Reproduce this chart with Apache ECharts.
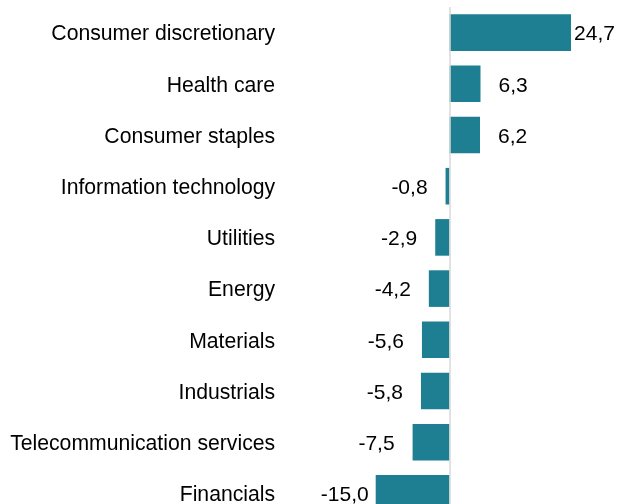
<!DOCTYPE html>
<html>
<head>
<meta charset="utf-8">
<script src="https://cdn.jsdelivr.net/npm/echarts@6/dist/echarts.min.js"></script>
<style>
  html, body { margin: 0; padding: 0; background: #fff; overflow: hidden; }
  #chart { width: 618px; height: 524px; }
</style>
</head>
<body>
<div id="chart"></div>
<script>
var categories = [
  "Consumer discretionary",
  "Health care",
  "Consumer staples",
  "Information technology",
  "Utilities",
  "Energy",
  "Materials",
  "Industrials",
  "Telecommunication services",
  "Financials"
];
var values = [24.7, 6.3, 6.2, -0.8, -2.9, -4.2, -5.6, -5.8, -7.5, -15.0];

var font = "Liberation Sans, Arial, sans-serif";

function fmt(v) {
  return v.toFixed(1).replace(".", ",");
}

var seriesData = values.map(function (v, i) {
  // labels squeezed near the chart edges
  var dist = 18;
  if (i === 0) dist = 3;
  if (i === values.length - 1) dist = 7;
  return {
    value: v,
    label: { position: v >= 0 ? "right" : "left", distance: dist }
  };
});

var chart = echarts.init(document.getElementById("chart"));
chart.setOption({
  animation: false,
  backgroundColor: "#ffffff",
  grid: { left: 351.1, width: 246, top: 7, height: 512 },
  xAxis: {
    type: "value",
    min: -20,
    max: 30,
    show: false
  },
  yAxis: {
    type: "category",
    data: categories,
    inverse: true,
    axisTick: { show: false },
    axisLine: { show: false },
    axisLabel: {
      margin: 76,
      formatter: function (v) { return "{c|" + v + "}"; },
      rich: {
        c: {
          color: "#000",
          fontSize: 21.2,
          fontFamily: font,
          padding: [4, 0, 0, 0]
        }
      }
    }
  },
  series: [
    {
      type: "bar",
      data: seriesData,
      barCategoryGap: "28.5%",
      itemStyle: { color: "#1d7f91" },
      label: {
        show: true,
        color: "#000",
        fontSize: 21,
        fontFamily: font,
        offset: [0, 2],
        formatter: function (p) { return fmt(p.value); }
      },
      markLine: {
        silent: true,
        symbol: "none",
        label: { show: false },
        lineStyle: { color: "#d9d9d9", type: "solid", width: 1.5 },
        data: [{ xAxis: 0 }]
      }
    }
  ]
});
</script>
</body>
</html>
